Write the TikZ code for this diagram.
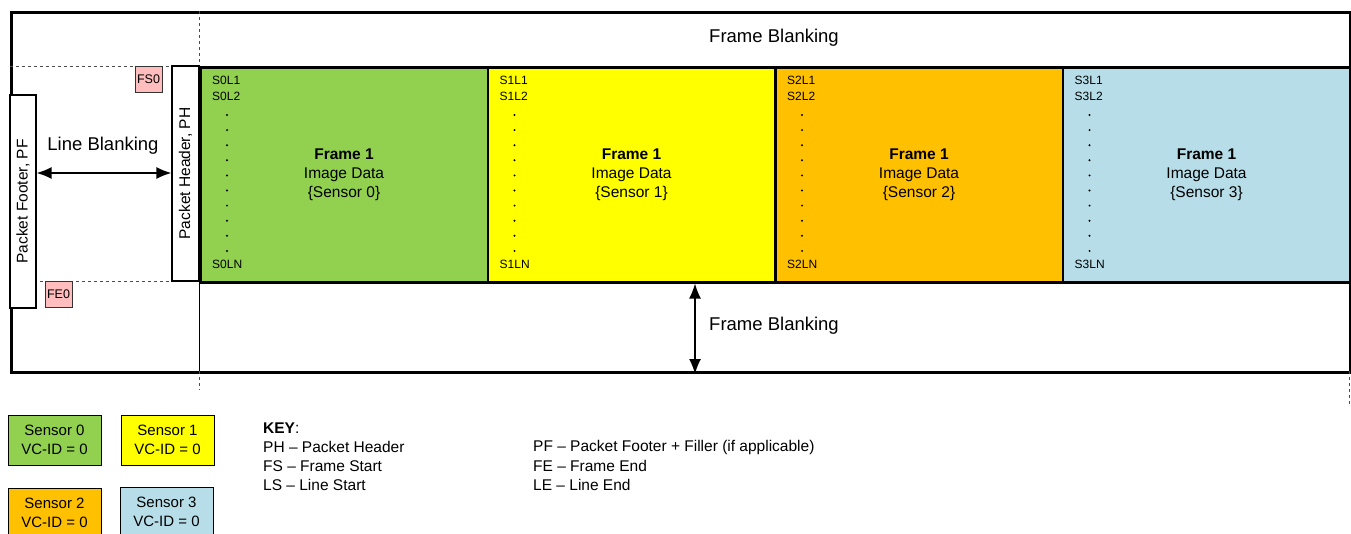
\documentclass[tikz,border=0pt]{standalone}
\usepackage{fontspec}
\setmainfont{Liberation Sans}
\usetikzlibrary{arrows.meta}
\definecolor{sgreen}{HTML}{92D050}
\definecolor{syellow}{HTML}{FFFF00}
\definecolor{sorange}{HTML}{FFC000}
\definecolor{sblue}{HTML}{B7DDE8}
\definecolor{spink}{HTML}{FFBDBD}
\newcommand{\pxfont}[2]{\fontsize{#1}{#2}\selectfont}

\begin{document}
\begin{tikzpicture}[x=1pt, y=-1pt,
    blk/.style={draw, line width=2.5pt, minimum width=287.5pt, minimum height=215pt, anchor=north west, inner sep=0pt},
    tall/.style={draw, fill=white, line width=1.2pt, rotate=90, inner sep=0pt, font=\pxfont{15.5}{18}},
    tag/.style={draw=black!80, fill=spink, line width=1pt, minimum width=27pt, minimum height=26pt, inner sep=0pt, font=\pxfont{12.5}{14}},
    dbl/.style={{Latex[length=15pt,width=12pt]}-{Latex[length=15pt,width=12pt]}, line width=1.5pt},
    guide/.style={dashed, line width=.8pt, black!70},
    leg/.style={draw, line width=.8pt, minimum width=93pt, minimum height=50pt, align=center, font=\pxfont{15}{19}},
    keytxt/.style={anchor=west, inner sep=0pt, font=\pxfont{15.5}{19}}]
    \clip (0,0) rectangle (1351,533);
    \useasboundingbox (0,0) rectangle (1351,533);

    % frame and blanking
    \node[draw, line width=3pt, minimum width=1339pt, minimum height=360pt, anchor=north west, inner sep=0pt] (outer) at (10,11) {};
    \node[font=\pxfont{18.5}{20}] (fbtop) at (774,38) {Frame Blanking};
    \node[font=\pxfont{18.5}{20}] (fbbot) at (774,326) {Frame Blanking};
    \draw[guide] (199,11) -- (199,66);
    \draw[guide] (10,66) -- (172,66);
    \draw[guide] (10,281) -- (172,281);
    \draw[line width=1pt] (199,281) -- (199,371);
    \draw[guide] (199,371) -- (199,390);
    \draw[guide] (1349,371) -- (1349,405);

    % image data per sensor
    \foreach \i/\c in {0/sgreen,1/syellow,2/sorange,3/sblue} {
        \node[blk, fill=\c] (s\i) at ({199+\i*287.5},66) {};
        \node[anchor=west, inner sep=0pt, font=\pxfont{12}{14}] at ({212+\i*287.5},80) {S\i L1};
        \node[anchor=west, inner sep=0pt, font=\pxfont{12}{14}] at ({212+\i*287.5},96) {S\i L2};
        \node[anchor=west, inner sep=0pt, font=\pxfont{12}{14}] at ({212+\i*287.5},264) {S\i LN};
        \foreach \k in {0,...,9}
            \fill ({227+\i*287.5},{115+\k*15.1}) circle (1.1);
        \node[align=center, font=\pxfont{15.5}{19}] at (s\i.center) {\textbf{Frame 1}\\Image Data\\\{Sensor \i\}};
    }

    % packet header / footer
    \node[tall, minimum width=215pt, minimum height=27pt] (ph) at (185.5,173.5) {Packet Header, PH};
    \node[tall, minimum width=213pt, minimum height=26pt] (pf) at (23,201.5) {Packet Footer, PF};
    \node[tag] (fs0) at (148.5,79) {FS0};
    \node[tag] (fe0) at (58.5,294.5) {FE0};

    % blanking arrows
    \node[font=\pxfont{18.5}{20}] (lb) at (103,146) {Line Blanking};
    \coordinate (lby) at (0,173);
    \coordinate (fbx) at (695,0);
    \draw[dbl] (pf.south |- lby) -- (ph.north |- lby);
    \draw[dbl] (s1.south -| fbx) -- (outer.south -| fbx);

    % legend
    \node[leg, fill=sgreen] (l0) at (54.5,440) {Sensor 0\\VC-ID = 0};
    \node[leg, fill=syellow] (l1) at (167.5,440) {Sensor 1\\VC-ID = 0};
    \node[leg, fill=sorange] (l2) at (54.5,513) {Sensor 2\\VC-ID = 0};
    \node[leg, fill=sblue] (l3) at (166.5,512) {Sensor 3\\VC-ID = 0};

    % key
    \node[keytxt] (key) at (263,428) {\textbf{KEY}:};
    \node[keytxt] (kph) at (263,447) {PH -- Packet Header};
    \node[keytxt] (kfs) at (263,466) {FS -- Frame Start};
    \node[keytxt] (kls) at (263,485) {LS -- Line Start};
    \node[keytxt] (kpf) at (533,447) {PF -- Packet Footer + Filler (if applicable)};
    \node[keytxt] (kfe) at (533,466) {FE -- Frame End};
    \node[keytxt] (kle) at (533,485) {LE -- Line End};
\end{tikzpicture}
\end{document}
